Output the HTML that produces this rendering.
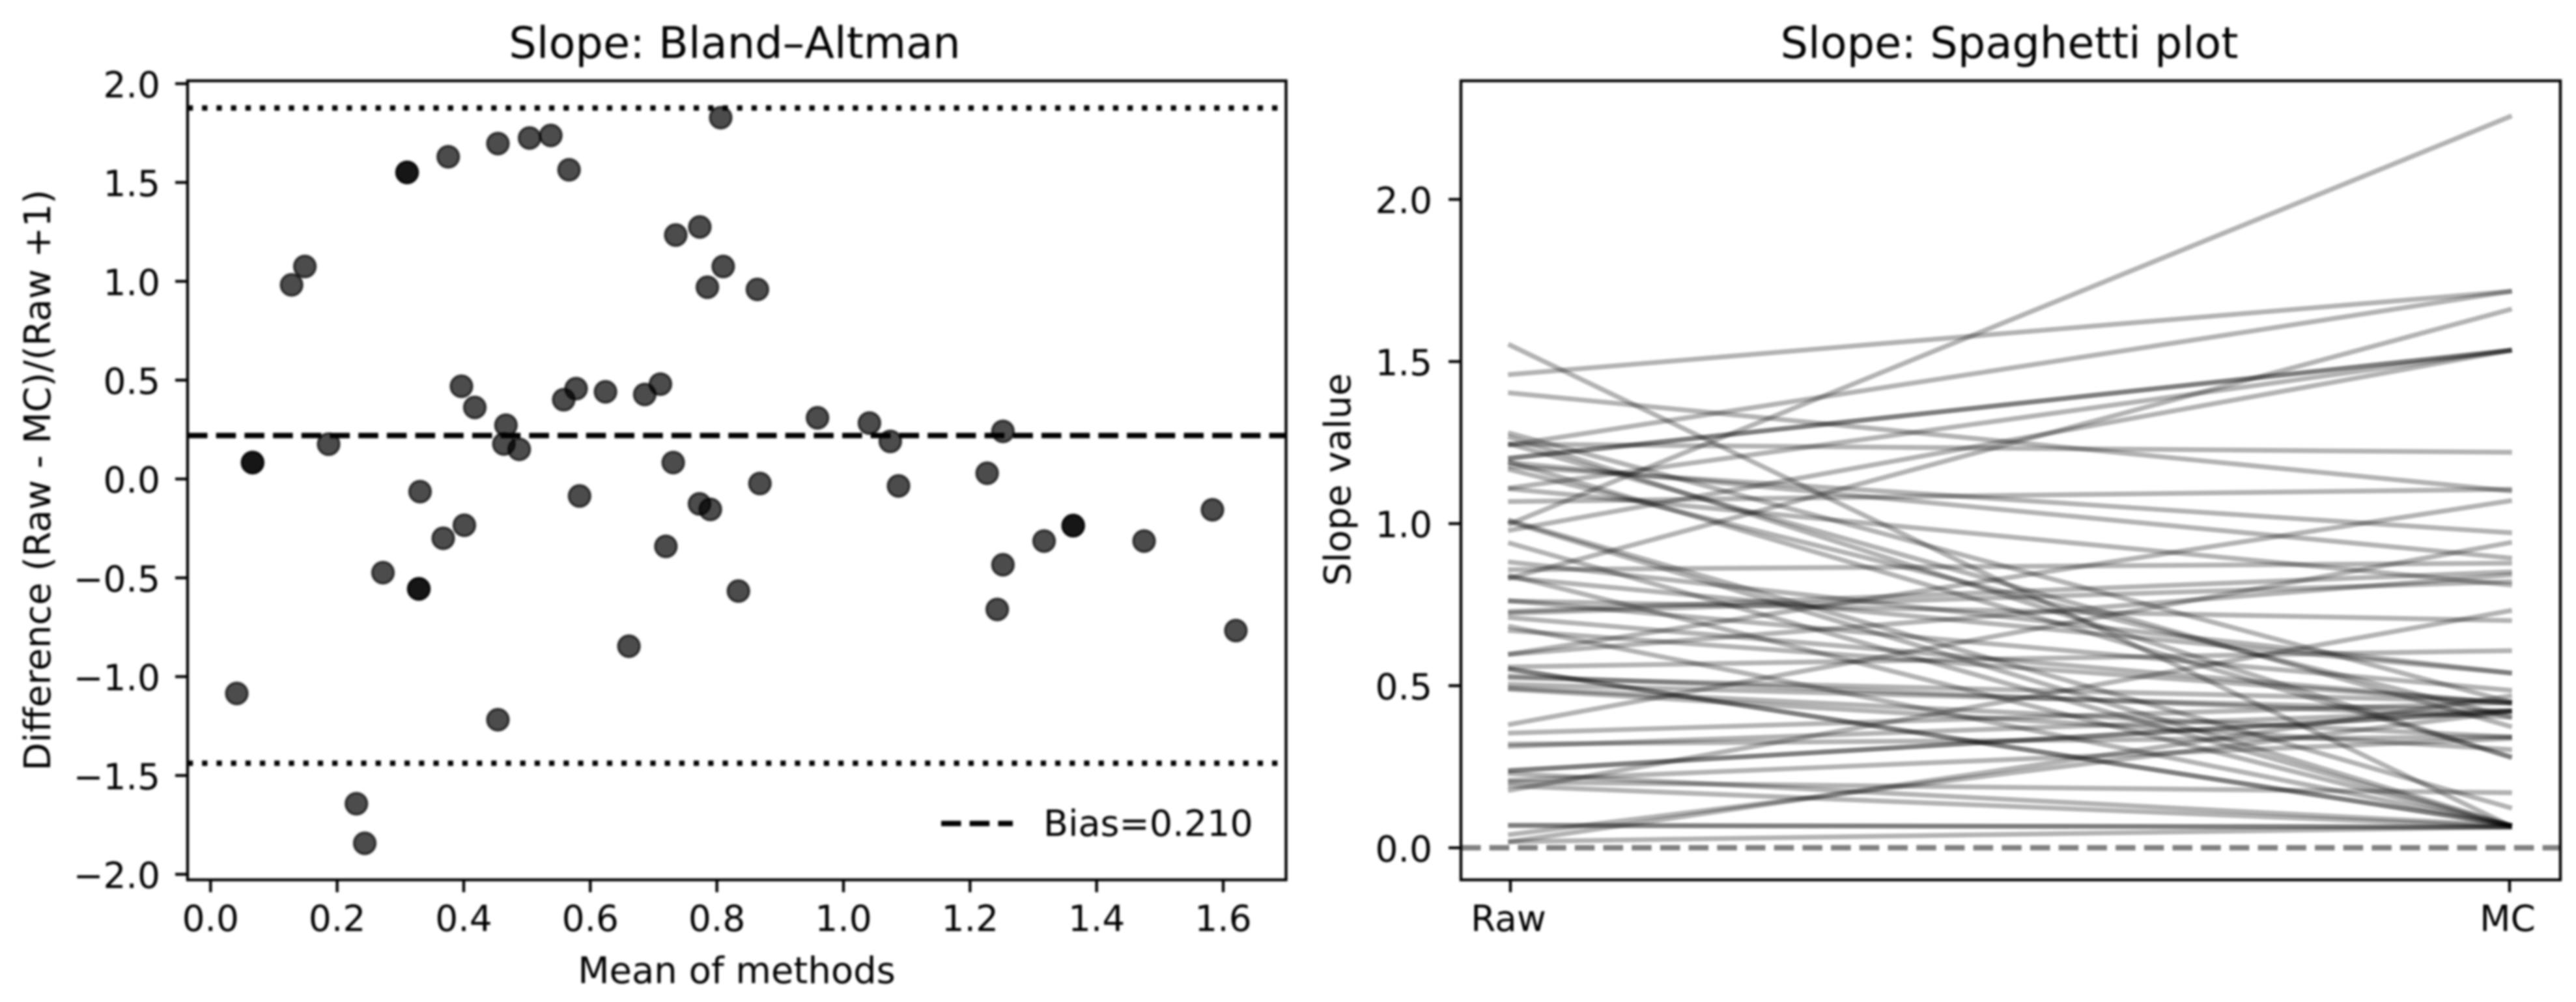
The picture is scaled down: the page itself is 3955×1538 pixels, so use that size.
<!DOCTYPE html>
<html lang="en">
<head>
<meta charset="utf-8">
<title>Slope: Bland–Altman and Spaghetti plot</title>
<style>
html,body{margin:0;padding:0;background:#fff;width:3955px;height:1538px;overflow:hidden}
svg{display:block;filter:blur(1.7px)}
text{font-family:"DejaVu Sans","Liberation Sans",sans-serif;fill:#000}
</style>
</head>
<body>
<svg id="figure" xmlns="http://www.w3.org/2000/svg" width="3955" height="1538" viewBox="0 0 3955 1538">
  <defs>
    <clipPath id="clip-left"><rect x="288" y="124" width="1686.5" height="1226.5"/></clipPath>
    <clipPath id="clip-right"><rect x="2243" y="124" width="1688" height="1226.5"/></clipPath>
  </defs>
  <rect width="3955" height="1538" fill="#fff"/>

  <g id="ba-panel">
    <g id="ba-marks" clip-path="url(#clip-left)"></g>
    <g id="ba-axes"></g>
    <text x="1128" y="89" font-size="67" text-anchor="middle">Slope: Bland–Altman</text>
    <text x="1131" y="1509" font-size="56" text-anchor="middle">Mean of methods</text>
    <text x="0" y="0" font-size="56" text-anchor="middle" transform="translate(77 737) rotate(-90)">Difference (Raw - MC)/(Raw +1)</text>
    <g>
      <line x1="1445" x2="1555" y1="1264" y2="1264" stroke="#000" stroke-width="8.25" stroke-dasharray="30.5 13.2"/>
      <text x="1602" y="1283" font-size="55.5">Bias=0.210</text>
    </g>
  </g>

  <g id="sp-panel">
    <g id="sp-marks" clip-path="url(#clip-right)"></g>
    <g id="sp-axes"></g>
    <text x="3085" y="89" font-size="67" text-anchor="middle">Slope: Spaghetti plot</text>
    <text x="0" y="0" font-size="56" text-anchor="middle" transform="translate(2073 736) rotate(-90)">Slope value</text>
  </g>
</svg>

<script>
// Bland-Altman data: mean of methods and relative difference, one entry per subject
const meanValues = [0.0664,0.0664,0.3105,0.3105,0.3755,0.454,0.504,0.5376,0.5664,0.149,0.128,0.3964,0.4175,0.4667,0.4634,0.4877,0.1865,0.558,0.5776,0.624,0.686,0.7108,0.331,0.583,0.806,0.735,0.773,0.81,0.785,0.864,0.959,1.041,1.074,1.252,0.731,0.868,1.087,1.227,0.401,0.3676,0.2724,0.329,0.329,0.661,0.0414,0.454,0.2304,0.2436,0.7725,0.7897,0.7194,0.834,1.252,1.243,1.317,1.363,1.363,1.475,1.583,1.62];
const diffValues = [0.083,0.083,1.551,1.551,1.63,1.697,1.725,1.738,1.564,1.075,0.982,0.469,0.362,0.272,0.177,0.15,0.176,0.401,0.457,0.441,0.4275,0.48,-0.064,-0.086,1.828,1.234,1.275,1.075,0.97,0.959,0.3095,0.283,0.19,0.241,0.083,-0.023,-0.035,0.029,-0.234,-0.3,-0.474,-0.556,-0.556,-0.846,-1.085,-1.218,-1.643,-1.843,-0.126,-0.154,-0.341,-0.567,-0.434,-0.66,-0.314,-0.236,-0.236,-0.314,-0.156,-0.767];
const biasValue = 0.22;
const upperLimit = 1.877;
const lowerLimit = -1.438;
const baXTicks = [0,0.2,0.4,0.6,0.8,1.0,1.2,1.4,1.6];
const baXTickLabels = ['0.0','0.2','0.4','0.6','0.8','1.0','1.2','1.4','1.6'];
const baYTicks = [2,1.5,1,0.5,0,-0.5,-1,-1.5,-2];
const baYTickLabels = ['2.0','1.5','1.0','0.5','0.0','−0.5','−1.0','−1.5','−2.0'];

// Spaghetti data: slope per subject under each method
const rawValues = [0.069,0.069,0.551,0.551,0.682,0.839,0.939,1.005,1.009,0.229,0.191,0.489,0.493,0.530,0.504,0.524,0.203,0.670,0.710,0.762,0.833,0.881,0.320,0.558,1.550,1.189,1.266,1.245,1.166,1.278,1.107,1.188,1.176,1.403,0.761,0.858,1.068,1.245,0.354,0.313,0.208,0.238,0.238,0.381,0.019,0.178,0.041,0.019,0.724,0.729,0.597,0.598,0.980,0.833,1.110,1.202,1.202,1.243,1.460,1.000];
const mcValues = [0.064,0.064,0.070,0.070,0.070,0.069,0.069,0.070,0.124,0.069,0.065,0.303,0.342,0.403,0.422,0.451,0.170,0.446,0.446,0.486,0.539,0.540,0.342,0.608,0.069,0.282,0.280,0.375,0.404,0.450,0.811,0.894,0.972,1.101,0.701,0.878,1.106,1.220,0.448,0.423,0.337,0.421,0.421,0.941,0.064,0.731,0.420,0.468,0.821,0.851,0.842,1.070,1.534,1.660,1.534,1.534,1.534,1.716,1.716,2.255];
const spXCategories = ['Raw','MC'];
const spYTicks = [0,0.5,1,1.5,2];
const spYTickLabels = ['0.0','0.5','1.0','1.5','2.0'];
const zeroLevel = 0;

const NS = 'http://www.w3.org/2000/svg';
const AXIS = { top: 124, bottom: 1350.5, tick: 19, spine: 4.4 };
const L = { left: 288, right: 1974.5 };
const R = { left: 2243, right: 3931 };

// axis functions
function baX(v){ return 323.3 + v * 971.7; }
function baY(v){ return 735.2 - v * 303.4; }
function spX(i){ return 2319 + i * (3853 - 2319); }
function spY(v){ return 1301.3 - v * 497.6; }

function make(tag, parent){
  const el = document.createElementNS(NS, tag);
  parent.appendChild(el);
  return el;
}
function drawLine(parent, x1, y1, x2, y2, stroke, width){
  const el = make('line', parent);
  el.setAttribute('x1', x1);
  el.setAttribute('y1', y1);
  el.setAttribute('x2', x2);
  el.setAttribute('y2', y2);
  el.setAttribute('stroke', stroke);
  el.setAttribute('stroke-width', width);
  return el;
}
function drawText(parent, x, y, str, anchor){
  const el = make('text', parent);
  el.setAttribute('x', x);
  el.setAttribute('y', y);
  el.setAttribute('font-size', '55');
  el.setAttribute('text-anchor', anchor);
  el.textContent = str;
  return el;
}
function drawFrame(parent, box){
  const el = make('rect', parent);
  el.setAttribute('x', box.left);
  el.setAttribute('y', AXIS.top);
  el.setAttribute('width', box.right - box.left);
  el.setAttribute('height', AXIS.bottom - AXIS.top);
  el.setAttribute('fill', 'none');
  el.setAttribute('stroke', '#000');
  el.setAttribute('stroke-width', AXIS.spine);
  return el;
}

// ---- Bland-Altman panel ----
const baMarks = document.getElementById('ba-marks');
const baAxes = document.getElementById('ba-axes');

meanValues.forEach(function(m, i){
  const dot = make('circle', baMarks);
  
  
  dot.setAttribute('cx', baX(m));
  dot.setAttribute('cy', baY(diffValues[i]));
  dot.setAttribute('r', 16.5);
  dot.setAttribute('fill', '#000');
  dot.setAttribute('fill-opacity', '0.7');
  dot.setAttribute('stroke', '#000');
  dot.setAttribute('stroke-opacity', '0.7');
  dot.setAttribute('stroke-width', '3.5');
});

const biasLine = drawLine(baMarks, L.left, baY(biasValue), L.right, baY(biasValue), '#000', 8.25);


biasLine.setAttribute('stroke-dasharray', '30.5 13.2');

const upperLine = drawLine(baMarks, L.left, baY(upperLimit), L.right, baY(upperLimit), '#000', 8.25);


upperLine.setAttribute('stroke-dasharray', '8.25 13.95');

const lowerLine = drawLine(baMarks, L.left, baY(lowerLimit), L.right, baY(lowerLimit), '#000', 8.25);


lowerLine.setAttribute('stroke-dasharray', '8.25 13.95');

baXTicks.forEach(function(t, i){
  const tick = drawLine(baAxes, baX(t), AXIS.bottom, baX(t), AXIS.bottom + AXIS.tick, '#000', AXIS.spine);
  
  
  const label = drawText(baAxes, baX(t), 1429, baXTickLabels[i], 'middle');
  
  
});
baYTicks.forEach(function(t, i){
  const tick = drawLine(baAxes, L.left - AXIS.tick, baY(t), L.left, baY(t), '#000', AXIS.spine);
  
  
  const label = drawText(baAxes, 246, baY(t) + 21, baYTickLabels[i], 'end');
  
  
});
const baFrame = drawFrame(baAxes, L);



// ---- Spaghetti panel ----
const spMarks = document.getElementById('sp-marks');
const spAxes = document.getElementById('sp-axes');

rawValues.forEach(function(r, i){
  const path = drawLine(spMarks, spX(0), spY(r), spX(1), spY(mcValues[i]), '#000', 7.4);
  
  
  path.setAttribute('stroke-opacity', '0.3');
  path.setAttribute('stroke-linecap', 'square');
});

const zeroLine = drawLine(spMarks, R.left, spY(zeroLevel), R.right, spY(zeroLevel), '#808080', 8.25);


zeroLine.setAttribute('stroke-dasharray', '30.5 13.2');

spXCategories.forEach(function(c, i){
  const tick = drawLine(spAxes, spX(i), AXIS.bottom, spX(i), AXIS.bottom + AXIS.tick, '#000', AXIS.spine);
  
  
  const label = drawText(spAxes, spX(i) - 3, 1429, c, 'middle');
  
  
});
spYTicks.forEach(function(t, i){
  const tick = drawLine(spAxes, R.left - AXIS.tick, spY(t), R.left, spY(t), '#000', AXIS.spine);
  
  
  const label = drawText(spAxes, 2199, spY(t) + 21, spYTickLabels[i], 'end');
  
  
});
const spFrame = drawFrame(spAxes, R);


</script>
</body>
</html>
